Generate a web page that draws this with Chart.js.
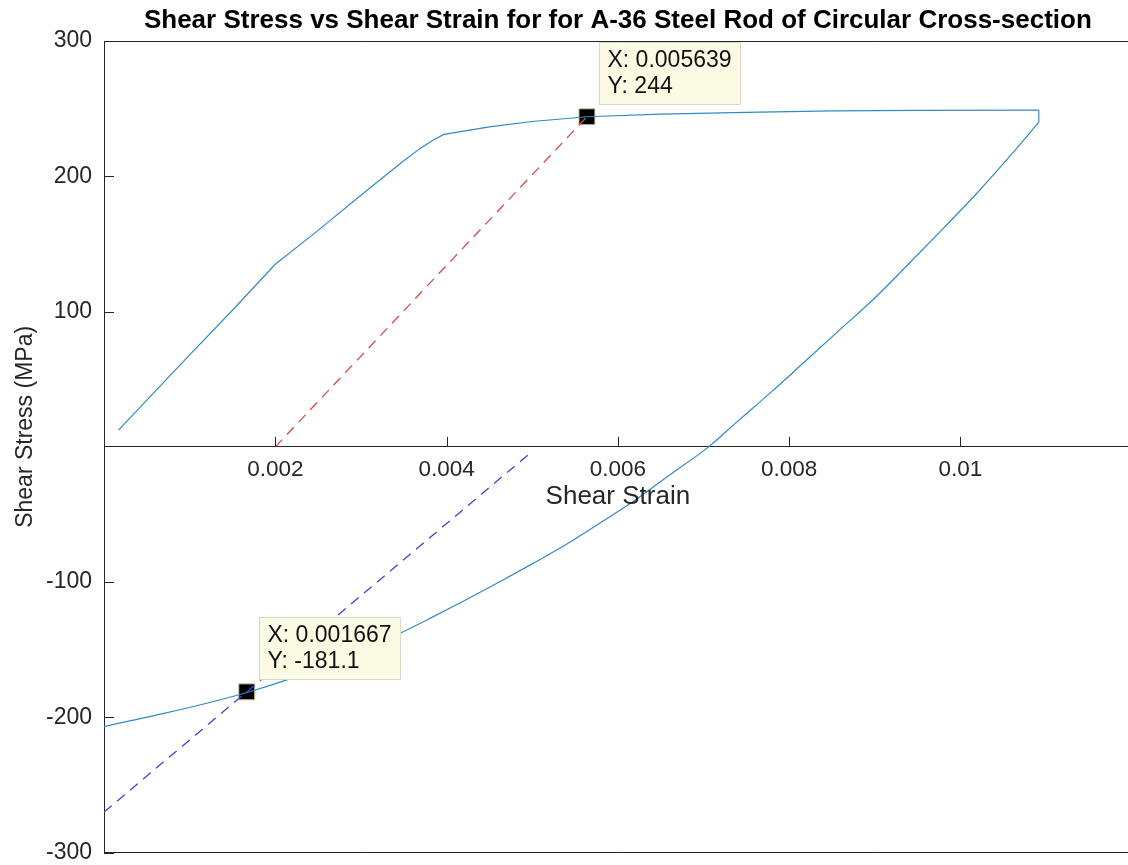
<!DOCTYPE html>
<html>
<head>
<meta charset="utf-8">
<title>Shear Stress vs Shear Strain</title>
<script src="https://cdn.jsdelivr.net/npm/chart.js@4.4.1/dist/chart.umd.min.js"></script>
<style>
  html, body { margin: 0; padding: 0; background: #fff; overflow: hidden; }
  #wrap { width: 1128px; height: 865px; overflow: hidden; }
</style>
</head>
<body>
<div id="wrap"><canvas id="shearChart" width="1144" height="865" style="width:1144px;height:865px"></canvas></div>
<script>
// loading branch
var loadingStrain = [0.00017, 0.0005, 0.001, 0.0015, 0.002, 0.0025, 0.003, 0.0035, 0.0037, 0.00385,
  0.00397, 0.0045, 0.005, 0.005639, 0.0065, 0.0075, 0.0085, 0.0095, 0.010915];
var loadingStress = [12.4, 34.5, 68, 101, 135, 160, 186, 211.5, 221, 227,
  231, 236.5, 240.5, 244, 246, 247.3, 248.4, 248.7, 248.9];

// unloading branch, listed from the left end up to the top corner
var unloadingStrain = [0, 0.0003, 0.0007, 0.0012, 0.0017, 0.0021, 0.0026, 0.003, 0.0034, 0.0038,
  0.0042, 0.0046, 0.005, 0.0054, 0.0058, 0.0062, 0.0066, 0.00706, 0.0074, 0.0078,
  0.0082, 0.0086, 0.009, 0.0094, 0.0098, 0.0102, 0.0106, 0.010915];
var unloadingStress = [-206.8, -202.5, -197, -189.5, -181, -173, -161.5, -151, -139.5, -127,
  -114, -100.5, -86.5, -72, -56, -39.5, -21, 0, 19, 41,
  64, 87, 110, 135.5, 161.5, 188, 216.5, 240];

// dashed offset lines
var redLineStrain = [0.002, 0.005639];
var redLineStress = [0, 244];
var blueLineStrain = [0, 0.004998];
var blueLineStress = [-270, -3.5];

// data tips
var tipStrain = [0.005639, 0.001667];
var tipStress = [244, -181.1];

var xTickStep = 0.002;
var yTickStep = 100;

var axisColor = "#262626";
var curveColor = "#3389c4";
var fontFamily = "'Liberation Sans', Arial, Helvetica, sans-serif";

function toPoints(xs, ys) {
  return xs.map(function (v, i) { return { x: v, y: ys[i] }; });
}

function fmt(v) {
  return String(Number(v.toPrecision(4)));
}

// MATLAB style inward ticks, box lines and axis labels
var axisDecor = {
  id: "axisDecor",
  afterDraw: function (chart) {
    var ctx = chart.ctx, a = chart.chartArea, x = chart.scales.x, y = chart.scales.y;
    var y0 = y.getPixelForValue(0);
    ctx.save();
    ctx.strokeStyle = axisColor;
    ctx.lineWidth = 1;
    ctx.beginPath();
    ctx.moveTo(a.left, Math.round(a.top) + 0.5);
    ctx.lineTo(a.right, Math.round(a.top) + 0.5);
    ctx.moveTo(a.left, Math.round(a.bottom) - 0.5);
    ctx.lineTo(a.right, Math.round(a.bottom) - 0.5);
    x.ticks.forEach(function (t) {
      if (t.value === 0) return;
      var px = Math.round(x.getPixelForValue(t.value)) + 0.5;
      ctx.moveTo(px, y0);
      ctx.lineTo(px, y0 - 10);
    });
    y.ticks.forEach(function (t) {
      if (t.value === 0) return;
      var py = Math.round(y.getPixelForValue(t.value)) + 0.5;
      ctx.moveTo(a.left, py);
      ctx.lineTo(a.left + 10, py);
    });
    ctx.stroke();

    ctx.fillStyle = axisColor;
    ctx.textAlign = "center";
    ctx.textBaseline = "alphabetic";
    ctx.font = "26px " + fontFamily;
    ctx.fillText("Shear Strain", (a.left + a.right) / 2, y0 + 57);

    ctx.font = "23px " + fontFamily;
    ctx.translate(31.5, (a.top + a.bottom) / 2 - 20);
    ctx.rotate(-Math.PI / 2);
    ctx.fillText("Shear Stress (MPa)", 0, 0);
    ctx.restore();
  }
};

// data tip boxes
var dataTips = {
  id: "dataTips",
  afterDatasetsDraw: function (chart) {
    var ctx = chart.ctx, x = chart.scales.x, y = chart.scales.y;
    ctx.save();
    ctx.font = "23px " + fontFamily;
    tipStrain.forEach(function (sx, i) {
      var px = x.getPixelForValue(sx), py = y.getPixelForValue(tipStress[i]);
      var l1 = "X: " + fmt(sx), l2 = "Y: " + fmt(tipStress[i]);
      var w = Math.max(ctx.measureText(l1).width, ctx.measureText(l2).width) + 17;
      var h = 62;
      var bx = Math.round(px + 12) + 0.5, by = Math.round(py - 13 - h) + 0.5;
      ctx.fillStyle = "#fbfbe4";
      ctx.strokeStyle = "#d8d8c4";
      ctx.lineWidth = 1;
      ctx.fillRect(bx, by, w, h);
      ctx.strokeRect(bx, by, w, h);
      ctx.fillStyle = "#111";
      ctx.textAlign = "left";
      ctx.textBaseline = "middle";
      ctx.fillText(l1, bx + 8, by + 18);
      ctx.fillText(l2, bx + 8, by + 44);
    });
    ctx.restore();
  }
};

var loadingPts = toPoints(loadingStrain, loadingStress);
var unloadingPts = toPoints(unloadingStrain, unloadingStress);

var ctx = document.getElementById("shearChart").getContext("2d");

var shearChart = new Chart(ctx, {
  type: "scatter",
  data: {
    datasets: [
      {
        data: loadingPts,
        showLine: true,
        borderColor: curveColor,
        borderWidth: 1.2,
        pointRadius: 0,
        tension: 0,
      },
      {
        // vertical drop at the end of loading
        data: [loadingPts[loadingPts.length - 1], unloadingPts[unloadingPts.length - 1]],
        showLine: true,
        borderColor: curveColor,
        borderWidth: 1.2,
        pointRadius: 0,
      },
      {
        data: unloadingPts,
        showLine: true,
        borderColor: curveColor,
        borderWidth: 1.2,
        pointRadius: 0,
        cubicInterpolationMode: "monotone",
      },
      {
        data: toPoints(redLineStrain, redLineStress),
        showLine: true,
        borderColor: "#d84a4a",
        borderWidth: 1.3,
        borderDash: [10, 7],
        pointRadius: 0,
      },
      {
        data: toPoints(blueLineStrain, blueLineStress),
        showLine: true,
        borderColor: "#4a3fcf",
        borderWidth: 1.3,
        borderDash: [10, 7],
        pointRadius: 0,
      },
      {
        data: toPoints(tipStrain, tipStress),
        showLine: false,
        pointStyle: "rect",
        pointRadius: 11.3,
        pointHoverRadius: 11.3,
        backgroundColor: "#000",
        borderColor: "#cfc8a8",
        borderWidth: 1,
      },
    ],
  },
  options: {
    responsive: false,
    animation: false,
    devicePixelRatio: 1,
    events: [],
    layout: {
      padding: { top: 0, left: 0, right: 2, bottom: 12 },
    },
    plugins: {
      legend: { display: false },
      tooltip: { enabled: false },
      title: {
        display: true,
        fullSize: false,
        text: "Shear Stress vs Shear Strain for for A-36 Steel Rod of Circular Cross-section",
        color: "#000",
        font: { family: fontFamily, size: 26, weight: "bold" },
        padding: { top: 5, bottom: 4.8 },
      },
    },
    scales: {
      x: {
        type: "linear",
        position: { y: 0 },
        min: 0,
        max: 0.012,
        grid: { display: false, drawTicks: false },
        border: { display: true, color: axisColor, width: 1 },
        afterFit: function (scale) {
          scale.paddingLeft = 0;
          scale.paddingRight = 0;
        },
        ticks: {
          stepSize: xTickStep,
          color: axisColor,
          padding: 9,
          maxRotation: 0,
          font: { family: fontFamily, size: 22.5 },
          callback: function (v) {
            if (v === 0 || v > 0.0115) return "";
            return String(Number(v.toFixed(3)));
          },
        },
      },
      y: {
        type: "linear",
        position: "left",
        min: -300,
        max: 300,
        grid: { display: false, drawTicks: false },
        border: { display: true, color: axisColor, width: 1 },
        afterFit: function (scale) {
          scale.width = 104;
          scale.paddingTop = 0;
          scale.paddingBottom = 0;
        },
        ticks: {
          stepSize: yTickStep,
          color: axisColor,
          padding: 12,
          font: { family: fontFamily, size: 23 },
          callback: function (v) { return v === 0 ? "" : String(v); },
        },
      },
    },
  },
  plugins: [dataTips, axisDecor],
});
</script>
</body>
</html>
